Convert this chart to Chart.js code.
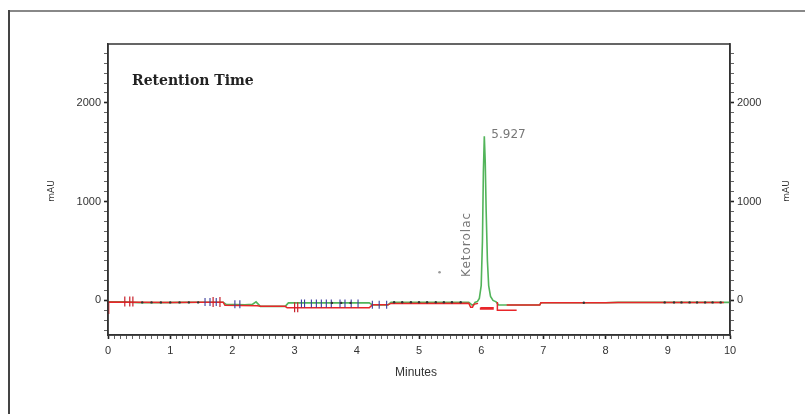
<!DOCTYPE html>
<html>
<head>
<meta charset="utf-8">
<script src="https://cdn.jsdelivr.net/npm/chart.js@4"></script>
<style>
  html, body { margin: 0; padding: 0; background: #fff; }
  #wrap { width: 805px; height: 414px; }
</style>
</head>
<body>
<div id="wrap"><canvas id="chrom"></canvas></div>
<script>
// main detector trace (minutes / mAU)
var greenT = [0, 0.25, 0.5, 0.8, 1.2, 1.5, 1.85, 1.9, 2.2, 2.32, 2.38, 2.45, 2.85, 2.9, 3.5, 4.2, 4.25, 4.5, 4.55, 5.0,
              5.5, 5.8, 5.85, 5.88, 5.9, 5.94, 5.97, 6.0, 6.02, 6.035, 6.05, 6.065, 6.08, 6.1, 6.12, 6.15, 6.19, 6.24, 6.28, 6.94,
              6.96, 8.0, 8.2, 10];
var greenV = [-15, -15, -22, -22, -20, -18, -18, -40, -45, -40, -15, -60, -60, -25, -25, -25, -45, -45, -20, -18,
              -18, -18, -45, -45, -20, -10, 20, 150, 600, 1300, 1660, 1400, 900, 400, 150, 40, 0, -15, -47, -47,
              -24, -24, -20, -20];

// second (red) trace, null = break in the line
var redT = [0, 0.01, 0.5, 1.0, 1.5, 1.85, 1.88, 2.4, 2.45, 2.85, 2.88, 4.2, 4.25, 4.5, 4.55, 5.8, 5.83, 5.86, 5.88, 5.95,
            5.97, 5.99, 6.19, 6.19, 5.99, 5.99, 6.19, 6.22, 6.26, 6.26, 6.57, 6.5, 6.41, 6.94, 6.96, 8.0, 8.2, 9.9];
var redV = [-130, -15, -18, -20, -18, -18, -50, -55, -60, -60, -75, -75, -45, -45, -30, -28, -70, -70, -40, -30,
            null, -74, -74, -86, -86, -80, -80, null, -15, -100, -100, null, -47, -47, -24, -24, -20, -20];

// integration tick marks
var blueMarkT = [1.56, 1.64, 1.74, 2.04, 2.12, 3.11, 3.16, 3.27, 3.35, 3.43, 3.51, 3.59, 3.73, 3.81, 3.91, 4.02, 4.25, 4.36, 4.48];
var blueMarkV = [-15, -15, -15, -40, -40, -30, -30, -30, -30, -30, -30, -30, -30, -30, -30, -30, -45, -45, -45];
var redMarkT = [0.27, 0.35, 0.40, 1.69, 1.80, 3.0, 3.05];
var redMarkV = [-10, -10, -10, -15, -15, -70, -70];

// baseline dots
var dotT = [0.55, 0.7, 0.85, 1.0, 1.15, 1.3, 1.45, 3.6, 3.75, 3.9, 4.6, 4.73, 4.87, 5.0, 5.13, 5.27, 5.4, 5.53, 5.67,
            7.65, 8.95, 9.1, 9.22, 9.35, 9.47, 9.6, 9.72, 9.85];
var dotV = [-20, -20, -20, -20, -20, -20, -20, -25, -25, -25, -18, -18, -18, -18, -18, -18, -18, -18, -18,
            -24, -20, -20, -20, -20, -20, -20, -20, -20];

var strayT = [5.33];
var strayV = [285];

var peakName = 'Ketorolac';
var peakLabel = '5.927';

var yTicksMajor = [0, 1000, 2000];

function pts(t, v) {
  return t.map(function (x, i) { return { x: x, y: v[i] }; });
}

var peakIdx = greenV.indexOf(Math.max.apply(null, greenV));

function isInt(v, step) {
  var r = Math.round(v / step) * step;
  return Math.abs(v - r) < 1e-6;
}

var tickFont = { family: 'Liberation Sans', size: 11 };

function yAxis(pos, w) {
  return {
    type: 'linear',
    position: pos,
    min: -350,
    max: 2595,
    afterFit: function (s) { s.width = w; },
    ticks: {
      stepSize: 100,
      autoSkip: false,
      includeBounds: false,
      padding: 3,
      color: '#333',
      font: tickFont,
      callback: function (v) { return yTicksMajor.indexOf(Math.round(v)) >= 0 && isInt(v, 100) ? String(Math.round(v)) : ''; }
    },
    grid: {
      drawOnChartArea: false,
      tickLength: 4,
      tickColor: function (c) { return isInt(c.tick.value, 1000) ? '#222' : '#666'; },
      tickWidth: function (c) { return isInt(c.tick.value, 1000) ? 1.6 : 1; }
    },
    border: { display: true, color: '#333', width: 1.5 }
  };
}

var framePlugin = {
  id: 'frame',
  beforeDraw: function (chart) {
    var ctx = chart.ctx;
    ctx.save();
    ctx.fillStyle = '#fff';
    ctx.fillRect(0, 0, chart.width, chart.height);
    ctx.lineWidth = 2;
    ctx.strokeStyle = '#888';
    ctx.beginPath();
    ctx.moveTo(8, 11);
    ctx.lineTo(805, 11);
    ctx.stroke();
    ctx.strokeStyle = '#444';
    ctx.beginPath();
    ctx.moveTo(9, 10);
    ctx.lineTo(9, 414);
    ctx.stroke();
    ctx.restore();
  },
  afterDraw: function (chart) {
    var ctx = chart.ctx, a = chart.chartArea;
    var xs = chart.scales.x, ys = chart.scales.y;
    ctx.save();
    ctx.strokeStyle = '#333';
    ctx.lineWidth = 1.5;
    ctx.strokeRect(a.left, a.top, a.right - a.left, a.bottom - a.top);

    ctx.fillStyle = '#222';
    ctx.font = 'bold 14px "DejaVu Serif"';
    ctx.textAlign = 'left';
    ctx.textBaseline = 'alphabetic';
    ctx.fillText('Retention Time', a.left + 24, a.top + 41);

    // axis names
    ctx.fillStyle = '#333';
    ctx.font = '12px "Liberation Sans"';
    ctx.textAlign = 'center';
    ctx.textBaseline = 'middle';
    ctx.fillText('Minutes', 416, 373);

    ctx.font = '9px "DejaVu Sans"';
    [52, 787].forEach(function (x) {
      ctx.save();
      ctx.translate(x, 191);
      ctx.rotate(-Math.PI / 2);
      ctx.fillText('mAU', 0, 0);
      ctx.restore();
    });

    // peak annotations
    var px = xs.getPixelForValue(greenT[peakIdx]);
    var py = ys.getPixelForValue(greenV[peakIdx]);
    ctx.fillStyle = '#777';
    ctx.font = '12px "DejaVu Sans"';
    ctx.textAlign = 'left';
    ctx.textBaseline = 'alphabetic';
    ctx.fillText(peakLabel, px + 7, py + 2);

    ctx.save();
    ctx.translate(px - 17, py + 108);
    ctx.rotate(-Math.PI / 2);
    ctx.textAlign = 'center';
    ctx.textBaseline = 'middle';
    ctx.letterSpacing = '1px';
    ctx.fillText(peakName, 0, 0);
    ctx.restore();
    ctx.restore();
  }
};

new Chart(document.getElementById('chrom'), {
  type: 'line',
  data: {
    datasets: [{
      label: 'stray',
      data: pts(strayT, strayV),
      showLine: false,
      pointRadius: 1.3,
      pointBackgroundColor: '#999',
      pointBorderWidth: 0,
      order: 0
    }, {
      label: 'dots',
      data: pts(dotT, dotV),
      showLine: false,
      pointRadius: 1.2,
      pointBackgroundColor: '#333',
      pointBorderWidth: 0,
      order: 0
    }, {
      label: 'marks blue',
      data: pts(blueMarkT, blueMarkV),
      showLine: false,
      pointStyle: 'line',
      pointRotation: 90,
      pointRadius: 4,
      pointBorderColor: '#3a3d9a',
      pointBorderWidth: 1.1,
      order: 0
    }, {
      label: 'marks red',
      data: pts(redMarkT, redMarkV),
      showLine: false,
      pointStyle: 'line',
      pointRotation: 90,
      pointRadius: 5,
      pointBorderColor: '#c8202a',
      pointBorderWidth: 1.2,
      order: 0
    }, {
      label: 'red',
      data: pts(redT, redV),
      borderColor: '#e8262a',
      borderWidth: 1.5,
      pointRadius: 0,
      spanGaps: false,
      order: 1
    }, {
      label: 'green',
      data: pts(greenT, greenV),
      borderColor: '#52b45a',
      borderWidth: 1.6,
      pointRadius: 0,
      order: 2
    }]
  },
  options: {
    responsive: true,
    maintainAspectRatio: false,
    animation: false,
    layout: { padding: { top: 44, left: 0, right: 0, bottom: 0 } },
    plugins: { legend: { display: false }, tooltip: { enabled: false } },
    elements: { line: { tension: 0 } },
    scales: {
      x: {
        type: 'linear',
        min: 0,
        max: 10,
        afterFit: function (s) { s.height = 79; },
        ticks: {
          stepSize: 0.1,
          autoSkip: false,
          maxRotation: 0,
          includeBounds: false,
          padding: 5,
          color: '#333',
          font: tickFont,
          callback: function (v) { return isInt(v, 1) ? String(Math.round(v)) : ''; }
        },
        grid: {
          drawOnChartArea: false,
          tickLength: 4,
          tickColor: function (c) { return isInt(c.tick.value, 1) ? '#222' : '#666'; },
          tickWidth: function (c) { return isInt(c.tick.value, 1) ? 1.6 : 1; }
        },
        border: { display: true, color: '#333', width: 1.5 }
      },
      y: yAxis('left', 108),
      y2: yAxis('right', 75)
    }
  },
  plugins: [framePlugin]
});
</script>
</body>
</html>
